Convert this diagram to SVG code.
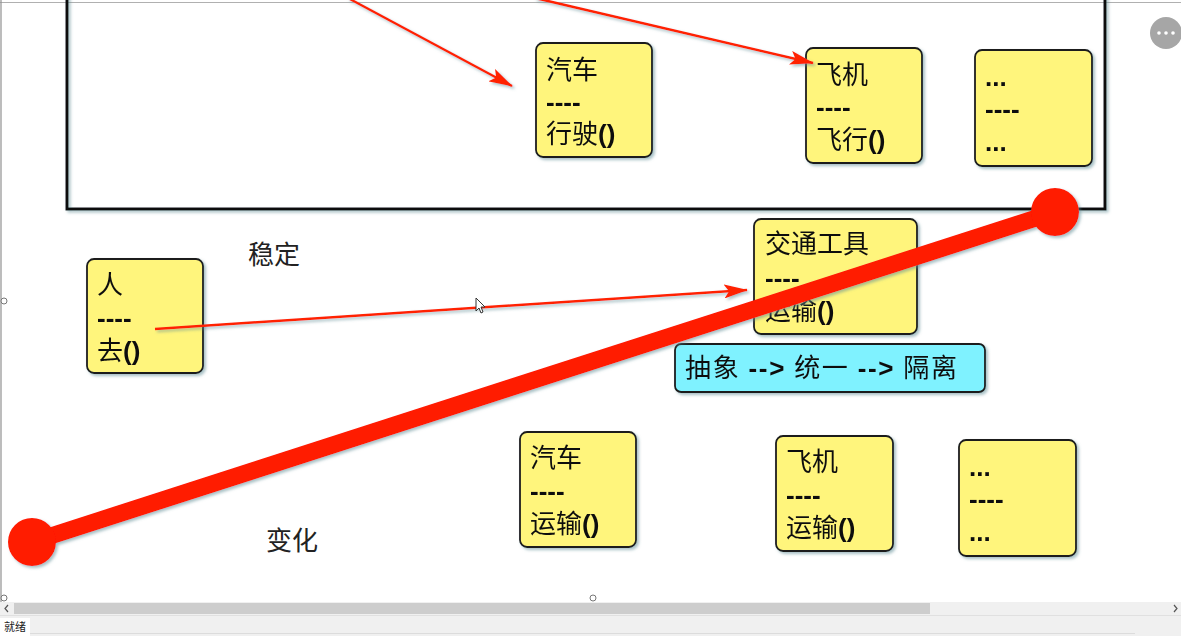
<svg xmlns="http://www.w3.org/2000/svg" width="1181" height="636" viewBox="0 0 1181 636">
<defs>
<filter id="sh" x="-20%" y="-20%" width="140%" height="140%">
<feDropShadow dx="2" dy="2" stdDeviation="1.5" flood-color="#5f8c94" flood-opacity="0.55"/>
</filter>
<marker id="ah" viewBox="0 0 24 14" refX="23" refY="7" markerWidth="24" markerHeight="14" markerUnits="userSpaceOnUse" orient="auto">
<path d="M0,0 L24,7 L0,14 L5,7 z" fill="#ff2200"/>
</marker>
</defs>
<style>
.box{fill:#fff57b;stroke:#1e1e1e;stroke-width:1.8}
.cy{fill:#7ff2ff;stroke:#1e1e1e;stroke-width:1.8}
.t{font-family:"Liberation Serif","Noto Sans CJK SC",serif;font-size:26px;fill:#111}
.b{font-family:"Liberation Sans",Arial,sans-serif;font-weight:bold}
.lbl{font-family:"Liberation Serif","Noto Sans CJK SC",serif;font-size:26px;fill:#222}
.arr{stroke:#ff2200;stroke-width:2.5;fill:none}
.ui{font-family:"Liberation Sans","Noto Sans CJK SC",sans-serif}
</style>
<rect x="0" y="0" width="1181" height="636" fill="#ffffff"/>
<line x1="0" y1="2.5" x2="1181" y2="2.5" stroke="#b0b0b0" stroke-width="1"/>
<line x1="1" y1="0" x2="1" y2="602" stroke="#909090" stroke-width="1.2"/>

<g id="frame" filter="url(#sh)">
<rect x="67" y="-10" width="1038" height="219" fill="none" stroke="#111" stroke-width="3"/>
</g>

<g id="label-stable"><text class="lbl" x="248" y="264">稳定</text></g>
<g id="label-change"><text class="lbl" x="266" y="550">变化</text></g>

<g id="car-top" filter="url(#sh)">
<rect class="box" x="536" y="43" width="116" height="114" rx="7"/>
<text class="t" x="546" y="79">汽车</text>
<text class="t b" x="546" y="111">----</text>
<text class="t" x="546" y="143">行驶<tspan class="b">()</tspan></text>
</g>
<g id="plane-top" filter="url(#sh)">
<rect class="box" x="806" y="48" width="116" height="115" rx="7"/>
<text class="t" x="816" y="84">飞机</text>
<text class="t b" x="816" y="116">----</text>
<text class="t" x="816" y="149">飞行<tspan class="b">()</tspan></text>
</g>
<g id="etc-top" filter="url(#sh)">
<rect class="box" x="975" y="50" width="117" height="116" rx="7"/>
<text class="t b" x="985" y="86">...</text>
<text class="t b" x="985" y="118">----</text>
<text class="t b" x="985" y="151">...</text>
</g>
<g id="person" filter="url(#sh)">
<rect class="box" x="87" y="259" width="116" height="114" rx="7"/>
<text class="t" x="97" y="294">人</text>
<text class="t b" x="97" y="327">----</text>
<text class="t" x="97" y="360">去<tspan class="b">()</tspan></text>
</g>
<g id="vehicle" filter="url(#sh)">
<rect class="box" x="754" y="219" width="163" height="115" rx="7"/>
<text class="t" x="765" y="253">交通工具</text>
<text class="t b" x="765" y="287">----</text>
<text class="t" x="765" y="320">运输<tspan class="b">()</tspan></text>
</g>
<g id="principle" filter="url(#sh)">
<rect class="cy" x="675" y="344" width="310" height="48" rx="6"/>
<text class="t" x="685" y="377" textLength="272" lengthAdjust="spacing">抽象 <tspan class="b">--&gt;</tspan> 统一 <tspan class="b">--&gt;</tspan> 隔离</text>
</g>
<g id="car-bottom" filter="url(#sh)">
<rect class="box" x="520" y="432" width="116" height="115" rx="7"/>
<text class="t" x="530" y="467">汽车</text>
<text class="t b" x="530" y="500">----</text>
<text class="t" x="530" y="533">运输<tspan class="b">()</tspan></text>
</g>
<g id="plane-bottom" filter="url(#sh)">
<rect class="box" x="776" y="436" width="117" height="115" rx="7"/>
<text class="t" x="786" y="471">飞机</text>
<text class="t b" x="786" y="504">----</text>
<text class="t" x="786" y="537">运输<tspan class="b">()</tspan></text>
</g>
<g id="etc-bottom" filter="url(#sh)">
<rect class="box" x="959" y="440" width="117" height="116" rx="7"/>
<text class="t b" x="969" y="476">...</text>
<text class="t b" x="969" y="508">----</text>
<text class="t b" x="969" y="541">...</text>
</g>

<g id="connectors" filter="url(#sh)">
<line class="arr" x1="348" y1="-2" x2="512" y2="86" marker-end="url(#ah)"/>
<line class="arr" x1="535" y1="-2" x2="813" y2="63" marker-end="url(#ah)"/>
<line class="arr" x1="155" y1="329" x2="747" y2="290" stroke-width="2" marker-end="url(#ah)"/>
<line x1="32" y1="542" x2="1055" y2="212" stroke="#ff1a00" stroke-width="17"/>
<circle cx="32" cy="542" r="24" fill="#ff1a00"/>
<circle cx="1055" cy="212" r="24" fill="#ff1a00"/>
</g>

<g id="cursor">
<path d="M476,298 L476,311 L479,308 L481,313 L483,312 L481,307 L485,307 Z" fill="#fff" stroke="#333" stroke-width="1"/>
</g>

<g id="handles" fill="#fff" stroke="#777" stroke-width="1">
<circle cx="4" cy="301" r="3"/>
<circle cx="4" cy="598" r="3"/>
<circle cx="593" cy="598" r="3"/>
</g>

<g id="menu-btn">
<circle cx="1166" cy="33" r="16" fill="#a6a6a6"/>
<circle cx="1159" cy="33" r="1.8" fill="#fff"/>
<circle cx="1166" cy="33" r="1.8" fill="#fff"/>
<circle cx="1173" cy="33" r="1.8" fill="#fff"/>
</g>

<g id="scrollbar">
<rect x="0" y="602" width="1181" height="13" fill="#f0f0f0"/>
<rect x="14" y="603" width="916" height="11" fill="#cdcdcd"/>
<path d="M8,605 L5,608.5 L8,612" fill="none" stroke="#555" stroke-width="1.2"/>
<path d="M1174,605 L1177,608.5 L1174,612" fill="none" stroke="#555" stroke-width="1.2"/>
</g>
<g id="statusbar">
<rect x="0" y="615" width="1181" height="21" fill="#f0f0f0"/>
<line x1="0" y1="615.5" x2="1181" y2="615.5" stroke="#e0e0e0"/>
<rect x="0" y="618" width="30" height="18" fill="#ffffff"/>
<line x1="30" y1="633.5" x2="1135" y2="633.5" stroke="#dcdcdc"/>
<text class="ui" x="4" y="631" font-size="11" fill="#222">就绪</text>
</g>
</svg>
